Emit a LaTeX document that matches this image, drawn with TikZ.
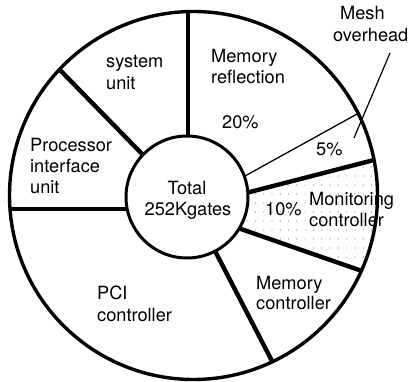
\documentclass[tikz,border=0pt]{standalone}
\usepackage{fontspec}
\setmainfont{TeX Gyre Heros}
\usetikzlibrary{calc}
\tikzset{
  rim/.style={line width=3.4pt},
  hub/.style={line width=3pt, fill=white},
  spoke/.style={line width=3.1pt},
  heavyspoke/.style={line width=4.4pt},
  thinspoke/.style={line width=1.3pt},
  leader/.style={line width=1.2pt},
  lbl/.style={anchor=base west, inner sep=0pt, font=\fontsize{18.2}{21}\selectfont},
  clbl/.style={anchor=base, inner sep=0pt, font=\fontsize{18.2}{21}\selectfont},
  dot/.style={fill=black!50}
}
\begin{document}
\begin{tikzpicture}[x=1pt,y=-1pt]
\useasboundingbox (0,0) rectangle (418,382);

% centres of the ring
\coordinate (O) at (193.5,195.5);
\coordinate (C) at (187,197);

% spoke end points (inner / outer)
\coordinate (s1i) at (188,140);  \coordinate (s1o) at (188,12);
\coordinate (s2i) at (146,158);  \coordinate (s2o) at (59,69);
\coordinate (s3i) at (128,209);  \coordinate (s3o) at (10,209);
\coordinate (s4i) at (214,249);  \coordinate (s4o) at (272,361);
\coordinate (s5i) at (238,228);  \coordinate (s5o) at (362,271);
\coordinate (s6i) at (246,193);  \coordinate (s6o) at (374,160);
\coordinate (s7i) at (245,176);  \coordinate (s7o) at (358,113.5);

% dotted sector: monitoring controller
\begin{scope}
  \clip (O) circle (184pt);
  \clip (s6i) -- ($(s6i)!2!(s6o)$) -- ($(s5i)!2!(s5o)$) -- (s5i) -- cycle;
  \foreach \i in {0,...,17} {
    \foreach \j in {0,...,13} {
      \fill[dot] ({247+8.3*\i},{158+9*\j}) circle (0.6pt);
    }
  }
\end{scope}

% spokes
\draw[spoke] (s1i) -- (s1o);
\draw[heavyspoke] (s2i) -- (s2o);
\draw[spoke] (s3i) -- (s3o);
\draw[heavyspoke] (s4i) -- (s4o);
\draw[heavyspoke] (s5i) -- (s5o);
\draw[heavyspoke] (s6i) -- (s6o);
\draw[thinspoke] (s7i) -- (s7o);

% outer rim and hub
\draw[rim] (O) circle (184pt);
\draw[hub] (C) circle (61pt);

% leader for the mesh overhead slice
\coordinate (meshA) at (390,53);
\coordinate (meshB) at (354,138);
\draw[leader] (meshA) -- (meshB);

% labels
\node[clbl] (tot1) at (187,195) {Total};
\node[clbl] (tot2) at (188,216) {252Kgates};

\node[lbl] (sys1) at (106,68) {system};
\node[lbl] (sys2) at (106,90) {unit};

\node[lbl] (mr1) at (211,63) {Memory};
\node[lbl] (mr2) at (211,84) {reflection};
\node[lbl] (mr3) at (222,129) {20\%};

\node[lbl] (mo1) at (340,20) {Mesh};
\node[lbl] (mo2) at (333,42) {overhead};
\node[lbl] (mo3) at (316,156) {5\%};

\node[lbl] (pi1) at (30,152) {Processor};
\node[lbl] (pi2) at (30,173) {interface};
\node[lbl] (pi3) at (30,194) {unit};

\node[lbl] (mc0) at (265,216) {10\%};
\node[lbl] (mc1) at (309,206) {Monitoring};
\node[lbl] (mc2) at (309,227) {controller};

\node[lbl] (me1) at (256,290) {Memory};
\node[lbl] (me2) at (256,310) {controller};

\node[lbl] (pc1) at (97,300) {PCI};
\node[lbl] (pc2) at (97,322) {controller};
\end{tikzpicture}
\end{document}
